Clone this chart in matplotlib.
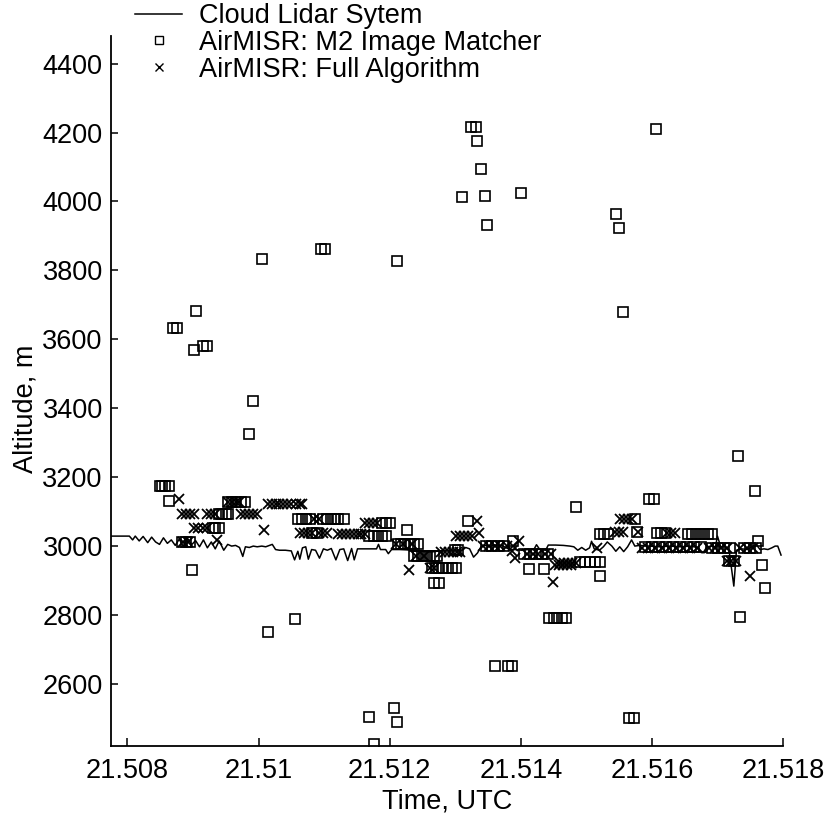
import matplotlib
matplotlib.use("Agg")
import matplotlib.pyplot as plt

# ---------------- data ----------------
lidar_time = [21.50774, 21.50803, 21.50808, 21.50812, 21.50818, 21.50824, 21.50831, 21.50837,
              21.50843, 21.50849, 21.50855, 21.50861, 21.50867, 21.50873, 21.50879, 21.50885,
              21.50892, 21.50898, 21.50904, 21.50910, 21.50916, 21.50922, 21.50928, 21.50934,
              21.50940, 21.50947, 21.50953, 21.50959, 21.50965, 21.50971, 21.50976, 21.50980,
              21.50986, 21.50992, 21.50998, 21.51005, 21.51011, 21.51017, 21.51021, 21.51026,
              21.51032, 21.51041, 21.51050, 21.51055, 21.51060, 21.51063, 21.51067, 21.51072,
              21.51076, 21.51081, 21.51087, 21.51093, 21.51099, 21.51105, 21.51111, 21.51118,
              21.51124, 21.51130, 21.51136, 21.51142, 21.51146, 21.51151, 21.51158, 21.51169,
              21.51180, 21.51183, 21.51186, 21.51194, 21.51198, 21.51203, 21.51215, 21.51227,
              21.51239, 21.51252, 21.51264, 21.51276, 21.51289, 21.51301, 21.51311, 21.51316,
              21.51322, 21.51328, 21.51334, 21.51340, 21.51347, 21.51353, 21.51359, 21.51365,
              21.51371, 21.51377, 21.51383, 21.51392, 21.51401, 21.51411, 21.51420, 21.51424,
              21.51429, 21.51438, 21.51442, 21.51453, 21.51465, 21.51475, 21.51481, 21.51487,
              21.51493, 21.51499, 21.51505, 21.51508, 21.51512, 21.51520, 21.51526, 21.51532,
              21.51539, 21.51545, 21.51551, 21.51557, 21.51563, 21.51569, 21.51574, 21.51581,
              21.51597, 21.51612, 21.51627, 21.51643, 21.51658, 21.51670, 21.51678, 21.51684,
              21.51691, 21.51697, 21.51700, 21.51705, 21.51712, 21.51718, 21.51725, 21.51729,
              21.51737, 21.51746, 21.51752, 21.51759, 21.51765, 21.51771, 21.51777, 21.51783,
              21.51788, 21.51792, 21.51797]
lidar_alt = [3029, 3029, 3018, 3029, 3015, 3028, 3010, 3026,
             3012, 3005, 3024, 3008, 3018, 3002, 3020, 3000,
             3022, 3004, 3016, 2998, 3018, 2995, 3012, 2992,
             3015, 2988, 3005, 3000, 3002, 2996, 2970, 2998,
             2996, 3000, 2998, 3000, 2998, 3002, 3005, 2990,
             2988, 2988, 2986, 2960, 2985, 2962, 2995, 2998,
             2962, 2990, 2988, 2965, 2992, 2988, 2993, 2960,
             2990, 2992, 2958, 2993, 2960, 2992, 2992, 2992,
             2992, 3005, 2990, 2990, 2978, 2990, 2990, 2989,
             2985, 2984, 2983, 2986, 2987, 2986, 2988, 2996,
             2992, 2968, 2980, 3000, 3002, 2998, 3004, 3000,
             3002, 2996, 2990, 2990, 2988, 2990, 2990, 3004,
             2990, 2988, 3003, 3003, 3002, 3000, 2998, 2988,
             2996, 2988, 2995, 3014, 2992, 2988, 2998, 3012,
             3000, 2985, 2998, 2984, 2998, 3018, 3000, 3002,
             3000, 2998, 3000, 2998, 3000, 2996, 2980, 2998,
             3000, 2998, 3029, 2998, 2999, 2985, 2884, 2988,
             2992, 2990, 2998, 3005, 2990, 2992, 2990, 2995,
             3000, 3000, 2974]

m2_time = [21.50870, 21.50876, 21.50905, 21.50901, 21.50916, 21.50922, 21.50991, 21.50986,
           21.51006, 21.51095, 21.51102, 21.51211, 21.51324, 21.51331, 21.51334, 21.51340,
           21.51310, 21.51345, 21.51348, 21.51400, 21.51606, 21.51545, 21.51550, 21.51556,
           21.51015, 21.51055, 21.51169, 21.51206, 21.51211, 21.51176, 21.51360, 21.51380,
           21.51386, 21.51443, 21.51450, 21.51456, 21.51463, 21.51469, 21.51565, 21.51573,
           21.51734, 21.51731, 21.51757, 21.51485, 21.51595, 21.51603, 21.51768, 21.51773,
           21.51521, 21.51762, 21.50898,
           21.50849, 21.50853, 21.50858, 21.50863, 21.50864,
           21.50940, 21.50945, 21.50950, 21.50954,
           21.50930, 21.50934, 21.50939,
           21.50884, 21.50889, 21.50895,
           21.50954, 21.50960, 21.50966, 21.50973, 21.50979,
           21.51060, 21.51066, 21.51072, 21.51078, 21.51098, 21.51104, 21.51110, 21.51116,
           21.51122, 21.51131,
           21.51082, 21.51089,
           21.51188, 21.51194, 21.51200,
           21.51169, 21.51176, 21.51182, 21.51189, 21.51195,
           21.51226,
           21.51212, 21.51218, 21.51224, 21.51231, 21.51237, 21.51243,
           21.51237, 21.51243, 21.51249, 21.51255, 21.51261, 21.51267, 21.51273,
           21.51264, 21.51270, 21.51276, 21.51282, 21.51289, 21.51295, 21.51301,
           21.51267, 21.51275,
           21.51299, 21.51304,
           21.51319,
           21.51347, 21.51356, 21.51365, 21.51374,
           21.51388,
           21.51405, 21.51414, 21.51423, 21.51432, 21.51441,
           21.51412, 21.51435,
           21.51490, 21.51498, 21.51505, 21.51513, 21.51521,
           21.51521, 21.51527, 21.51533,
           21.51574, 21.51577,
           21.51608, 21.51614, 21.51620,
           21.51655, 21.51661, 21.51667, 21.51673, 21.51679, 21.51686, 21.51692,
           21.51589, 21.51600, 21.51611, 21.51621, 21.51632, 21.51643, 21.51653, 21.51664,
           21.51675,
           21.51692, 21.51701, 21.51710, 21.51719, 21.51740, 21.51750, 21.51759,
           21.51718, 21.51725]
m2_alt = [3633, 3633, 3681, 3568, 3582, 3582, 3420, 3326,
          3834, 3863, 3863, 3826, 4215, 4215, 4174, 4095,
          4014, 4016, 3932, 4024, 4211, 3965, 3923, 3679,
          2751, 2789, 2504, 2529, 2491, 2427, 2651, 2651,
          2651, 2790, 2790, 2790, 2790, 2790, 2502, 2502,
          2795, 3261, 3159, 3113, 3138, 3138, 2946, 2879,
          2913, 3016, 2932,
          3174, 3174, 3174, 3174, 3132,
          3094, 3094, 3094, 3094,
          3053, 3053, 3053,
          3012, 3012, 3012,
          3128, 3128, 3128, 3128, 3128,
          3078, 3078, 3078, 3078, 3078, 3078, 3078, 3078,
          3078, 3078,
          3039, 3039,
          3068, 3068, 3068,
          3030, 3030, 3030, 3030, 3030,
          3046,
          3007, 3007, 3007, 3007, 3007, 3007,
          2971, 2971, 2971, 2971, 2971, 2971, 2971,
          2937, 2937, 2937, 2937, 2937, 2937, 2937,
          2892, 2892,
          2990, 2990,
          3072,
          3000, 3000, 3000, 3000,
          3014,
          2977, 2977, 2977, 2977, 2977,
          2935, 2935,
          2955, 2955, 2955, 2955, 2955,
          3036, 3036, 3036,
          3080, 3040,
          3039, 3039, 3039,
          3036, 3036, 3036, 3036, 3036, 3036, 3036,
          2997, 2997, 2997, 2997, 2997, 2997, 2997, 2997,
          2997,
          2994, 2994, 2994, 2994, 2994, 2994, 2994,
          2957, 2957]

full_time = [21.50879,
             21.50884, 21.50890, 21.50896, 21.50902, 21.50922, 21.50928, 21.50934,
             21.50902, 21.50908, 21.50915, 21.50921,
             21.50937,
             21.50885, 21.50892,
             21.50953, 21.50959, 21.50965, 21.50971,
             21.50973, 21.50979, 21.50985, 21.50991, 21.50997,
             21.51009,
             21.51014, 21.51020, 21.51026, 21.51032, 21.51038, 21.51044, 21.51050, 21.51057,
             21.51063, 21.51067,
             21.51085, 21.51092,
             21.51063, 21.51069, 21.51075, 21.51081, 21.51093, 21.51099, 21.51105,
             21.51162, 21.51168, 21.51174, 21.51180,
             21.51121, 21.51127, 21.51133, 21.51139, 21.51145, 21.51151, 21.51157, 21.51163,
             21.51209, 21.51221, 21.51234,
             21.51229,
             21.51240, 21.51252,
             21.51261, 21.51267,
             21.51278, 21.51284, 21.51290, 21.51296, 21.51302, 21.51308,
             21.51333,
             21.51301, 21.51307, 21.51313, 21.51319, 21.51325,
             21.51337,
             21.51342, 21.51351, 21.51360, 21.51369, 21.51379, 21.51388,
             21.51398, 21.51386, 21.51391,
             21.51409, 21.51418, 21.51427, 21.51437, 21.51446,
             21.51449,
             21.51452, 21.51458, 21.51464, 21.51470, 21.51476,
             21.51460, 21.51466, 21.51472, 21.51478, 21.51484,
             21.51516,
             21.51544, 21.51550, 21.51556,
             21.51551, 21.51557, 21.51563, 21.51570,
             21.51579,
             21.51623, 21.51629, 21.51635,
             21.51585, 21.51594, 21.51605, 21.51615, 21.51626, 21.51637, 21.51647, 21.51658,
             21.51669,
             21.51687, 21.51696, 21.51705, 21.51715, 21.51734, 21.51745, 21.51754,
             21.51715, 21.51721, 21.51728,
             21.51750]
full_alt = [3136,
            3094, 3094, 3094, 3094, 3094, 3094, 3094,
            3053, 3053, 3053, 3053,
            3018,
            3012, 3012,
            3128, 3128, 3128, 3128,
            3093, 3093, 3093, 3093, 3093,
            3046,
            3122, 3122, 3122, 3122, 3122, 3122, 3122, 3122,
            3122, 3122,
            3078, 3078,
            3039, 3039, 3039, 3039, 3039, 3039, 3039,
            3068, 3068, 3068, 3068,
            3034, 3034, 3034, 3034, 3034, 3034, 3034, 3034,
            3007, 3007, 3007,
            2930,
            2971, 2971,
            2937, 2937,
            2983, 2983, 2983, 2983, 2983, 2983,
            3072,
            3029, 3029, 3029, 3029, 3029,
            3038,
            3000, 3000, 3000, 3000, 3000, 3000,
            3014, 2985, 2965,
            2977, 2977, 2977, 2977, 2977,
            2897,
            2945, 2945, 2945, 2945, 2945,
            2950, 2950, 2950, 2950, 2950,
            2995,
            3040, 3040, 3040,
            3080, 3080, 3080, 3080,
            3040,
            3039, 3039, 3039,
            2995, 2995, 2995, 2995, 2995, 2995, 2995, 2995,
            2995,
            2994, 2994, 2994, 2994, 2994, 2994, 2994,
            2957, 2957, 2957,
            2913]

x_ticks = [21.508, 21.510, 21.512, 21.514, 21.516, 21.518]
x_tick_labels = ["21.508", "21.51", "21.512", "21.514", "21.516", "21.518"]
y_ticks = [2600, 2800, 3000, 3200, 3400, 3600, 3800, 4000, 4200, 4400]

# ---------------- plot ----------------
plt.rcParams['font.family'] = ['Liberation Sans', 'DejaVu Sans']
FS = 19.5

fig = plt.figure(figsize=(8.25, 8.18), dpi=100)
ax = fig.add_axes([111 / 825, 1 - 746 / 818, (783 - 111) / 825, (746 - 36) / 818])

ax.plot(lidar_time, lidar_alt, color='black', lw=1.1, label='Cloud Lidar Sytem', zorder=2)
ax.plot(m2_time, m2_alt, linestyle='none', marker='s', ms=7.5, mfc='none', mec='black',
        mew=1.2, label='AirMISR: M2 Image Matcher', zorder=3)
ax.plot(full_time, full_alt, linestyle='none', marker='x', ms=7.5, mec='black',
        mew=1.3, label='AirMISR: Full Algorithm', zorder=4)

ax.set_xlim(21.50775, 21.518)
ax.set_ylim(2420, 4480)
ax.set_xticks(x_ticks)
ax.set_xticklabels(x_tick_labels)
ax.set_yticks(y_ticks)

for s in ['top', 'right']:
    ax.spines[s].set_visible(False)
for s in ['left', 'bottom']:
    ax.spines[s].set_linewidth(1.3)

ax.tick_params(axis='x', direction='in', length=6, width=1.1, labelsize=FS, pad=9)
ax.tick_params(axis='y', direction='in', length=5, width=1.1, labelsize=FS, pad=6)

ax.set_xlabel('Time, UTC', fontsize=FS, labelpad=3)
ax.set_ylabel('Altitude, m', fontsize=FS, labelpad=3, y=0.475)

leg = ax.legend(loc='upper left', bbox_to_anchor=(135 / 825, 1 - 3 / 818),
                bbox_transform=fig.transFigure, frameon=False, fontsize=FS,
                handlelength=1.75, handletextpad=0.62, labelspacing=0.03,
                borderpad=0, borderaxespad=0, markerscale=0.75)
for h in leg.legend_handles:
    h.set_markeredgewidth(1.0)

fig.savefig('out.png', dpi=100)
